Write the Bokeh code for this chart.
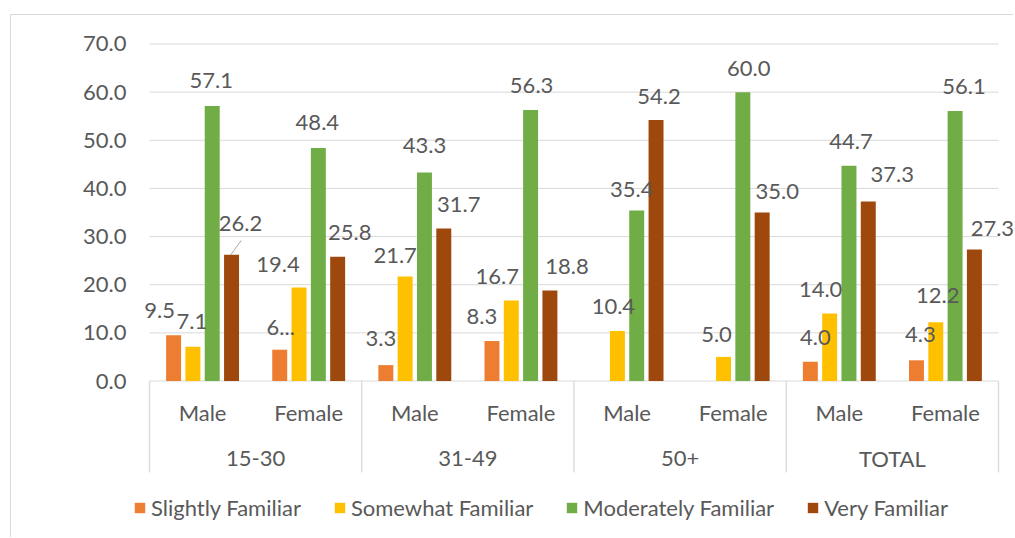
from bokeh.plotting import figure
from bokeh.models import (ColumnDataSource, FactorRange, FixedTicker, PrintfTickFormatter,
                          LabelSet, Label, Legend, LegendItem, Range1d)
from bokeh.transform import dodge
from bokeh.core.properties import value
from bokeh.embed import file_html
from bokeh.resources import INLINE

# ---------------- data ----------------
groups = ["15-30", "31-49", "50+", "TOTAL"]
genders = ["Male", "Female"]
series = ["Slightly Familiar", "Somewhat Familiar", "Moderately Familiar", "Very Familiar"]
slightly = [9.5, 6.5, 3.3, 8.3, None, None, 4.0, 4.3]
somewhat = [7.1, 19.4, 21.7, 16.7, 10.4, 5.0, 14.0, 12.2]
moderately = [57.1, 48.4, 43.3, 56.3, 35.4, 60.0, 44.7, 56.1]
very = [26.2, 25.8, 31.7, 18.8, 54.2, 35.0, 37.3, 27.3]
y_ticks = [0, 10, 20, 30, 40, 50, 60, 70]
y_title = "Level of familiarity (%)"
truncated = {(0, 1): "6..."}  # (series index, category index) -> shown text

# ---------------- style ----------------
FONT = "Lato"
FS = "22px"
TXT = "#595959"
GRID = "#D9D9D9"
colors = ["#ED7D31", "#FFC000", "#70AD47", "#9E480E"]
bar_offsets = [-0.273, -0.091, 0.091, 0.273]
bar_width = 0.141
# data-label nudges in pixels (dx right, dy up), mimicking the original placement
label_dx = [
    [-14, 1, -5, -10, 0, 0, 5, 4],
    [-1, -21, -10, -14, -4, -7, -9, 2],
    [-1, -1, 0, 1, -5, 6, 2, 9],
    [9, 12, 15, 17, 3, 15, 24, 18],
]
label_dy = [
    [25, 22, 27, 25, 24, 24, 24, 26],
    [25, 23, 21, 24, 24, 22, 24, 27],
    [26, 25, 27, 24, 21, 24, 24, 24],
    [31, 24, 24, 24, 24, 21, 27, 21],
]

factors = [(g, s) for g in groups for s in genders]
x_range = FactorRange(*factors, factor_padding=0, group_padding=0, subgroup_padding=0,
                      range_padding=0.1508, range_padding_units="absolute")

p = figure(x_range=x_range, y_range=Range1d(-32.715, 72.804), width=1003, height=523,
           x_axis_location=None, output_backend="svg", toolbar_location=None,
           min_border_left=122, min_border_right=0, min_border_top=15, min_border_bottom=0,
           background_fill_color="white", border_fill_color="white",
           styles={"margin-left": "10px", "margin-top": "14px",
                   "border-left": "1px solid #D9D9D9", "border-top": "1px solid #D9D9D9"})
p.outline_line_color = None
p.xgrid.grid_line_color = None
p.ygrid.grid_line_color = None

ax = p.yaxis[0]
ax.ticker = FixedTicker(ticks=y_ticks)
ax.formatter = PrintfTickFormatter(format="%.1f")
ax.axis_line_color = None
ax.major_tick_line_color = None
ax.minor_tick_line_color = None
ax.major_tick_out = 0
ax.major_tick_in = 0
ax.major_label_standoff = 7
ax.major_label_text_font = FONT
ax.major_label_text_font_size = FS
ax.major_label_text_color = TXT

# horizontal gridlines spanning the category area only
grid_src = ColumnDataSource(dict(x0=[factors[0]] * len(y_ticks),
                                 x1=[factors[-1]] * len(y_ticks), y=y_ticks))
p.segment(x0=dodge("x0", -0.5, range=x_range), y0="y", x1=dodge("x1", 0.5, range=x_range),
          y1="y", source=grid_src, line_color=GRID, line_width=1)

all_series = [slightly, somewhat, moderately, very]
renderers = []
for si, (name, vals, col, off) in enumerate(zip(series, all_series, colors, bar_offsets)):
    xs, tops, labs, dxs, dys = [], [], [], [], []
    for ci, v in enumerate(vals):
        if v is None:
            continue
        xs.append(factors[ci])
        tops.append(v)
        labs.append(truncated.get((si, ci), f"{v:.1f}"))
        dxs.append(label_dx[si][ci])
        dys.append(label_dy[si][ci])
    src = ColumnDataSource(dict(x=xs, top=tops, label=labs, dx=dxs, dy=dys))
    r = p.vbar(x=dodge("x", off, range=x_range), top="top", width=bar_width,
               source=src, fill_color=col, line_color=None)
    renderers.append(r)
    p.add_layout(LabelSet(x=dodge("x", off, range=x_range), y="top", text="label",
                          x_offset="dx", y_offset="dy", source=src,
                          text_font=value(FONT), text_font_size=FS, text_color=TXT,
                          text_align="center", text_baseline="middle"))

# leader line for the displaced "26.2" label
lead = ColumnDataSource(dict(x=[factors[0]], y0=[very[0]], y1=[very[0] + 3.0]))
p.segment(x0=dodge("x", 0.265, range=x_range), y0="y0",
          x1=dodge("x", 0.365, range=x_range), y1="y1",
          source=lead, line_color="#A6A6A6", line_width=1)

# category axis drawn in the frame below zero
sub_src = ColumnDataSource(dict(x=factors, label=[f[1] for f in factors]))
p.text(x="x", y=-6.54, text="label", source=sub_src, text_font=value(FONT),
       text_font_size=FS, text_color=TXT, text_align="center", text_baseline="middle")
grp_src = ColumnDataSource(dict(x=[(g, genders[0]) for g in groups], label=groups))
p.text(x=dodge("x", 0.5, range=x_range), y=-16.1, text="label", source=grp_src,
       text_font=value(FONT), text_font_size=FS, text_color=TXT,
       text_align="center", text_baseline="middle")
sep_src = ColumnDataSource(dict(x=[(g, genders[0]) for g in groups]))
p.segment(x0=dodge("x", -0.5, range=x_range), y0=0, x1=dodge("x", -0.5, range=x_range),
          y1=-19.0, source=sep_src, line_color=GRID, line_width=1.3)
end_src = ColumnDataSource(dict(x=[(groups[-1], genders[-1])]))
p.segment(x0=dodge("x", 0.5, range=x_range), y0=0, x1=dodge("x", 0.5, range=x_range),
          y1=-19.0, source=end_src, line_color=GRID, line_width=1.3)

p.add_layout(Label(x=-84, y=301, x_units="screen", y_units="screen", text=y_title,
                   angle=90, angle_units="deg", text_align="center", text_baseline="middle",
                   text_font=FONT, text_font_size="16px", text_color=TXT))

legend = Legend(items=[LegendItem(label=n, renderers=[r]) for n, r in zip(series, renderers)],
                orientation="horizontal", location=(0, 17), glyph_width=13, glyph_height=13,
                label_standoff=5, spacing=32, padding=0, margin=0, border_line_color=None,
                background_fill_alpha=0, label_text_font=FONT, label_text_font_size=FS,
                label_text_color=TXT)
p.add_layout(legend)

open("out.html", "w").write(file_html(p, INLINE))
